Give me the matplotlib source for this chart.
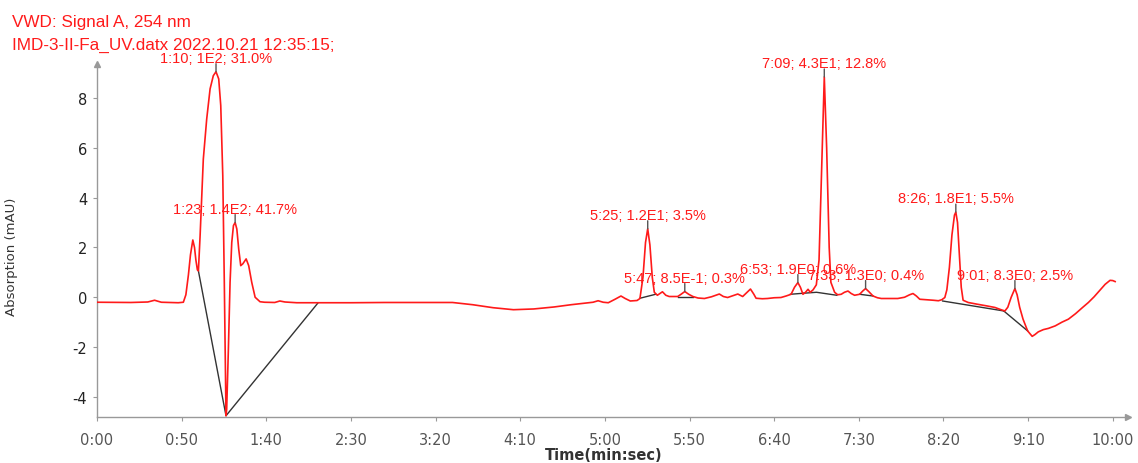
import matplotlib
matplotlib.use('Agg')
import matplotlib.pyplot as plt

plt.rcParams['axes.unicode_minus'] = False

# chromatogram trace, time in seconds, absorption in mAU
time_s = [0, 20, 30, 34, 38, 48, 51, 52.5, 54, 55.2, 56.6, 57.6, 58.4, 59.3,
          59.9, 60.9, 62.8, 64.8, 66.8, 68.7, 70.3, 71.9, 73.1, 74.3, 75.2,
          76.2, 76.6, 77.6, 78.6, 79.6, 80.6, 81.6, 82.6, 83.7, 84.9, 86.1,
          88.1, 89.6, 91.4, 93.4, 96.3, 99, 105, 108, 111, 118, 131,
          150, 170, 190, 210, 222, 234, 246, 258, 270, 280, 288, 293, 296,
          299, 302, 306, 309.5, 312, 315, 319, 320.7,
          322.5, 324, 325.3, 326.6, 328, 329.2, 331, 334, 336, 338, 343,
          345, 347.2, 349.5, 352, 355, 358.8, 363, 367.6, 370, 372.5, 375,
          378.5, 381.4, 384, 386, 388, 389.3, 393, 396, 400, 404, 407, 410,
          412, 414, 415.5, 417, 418.5, 420, 421.3, 423, 424.9, 426.5, 428,
          429.6, 431, 432.5, 433.5, 435.7, 437.5, 439.6, 441.5, 443.6,
          445.5, 447.5, 450.5, 452.3, 454, 456, 458.4, 461, 463.3, 468,
          473, 477, 480, 482, 484, 486, 490, 494, 497, 499, 500.8, 502,
          503.5, 505, 506.5, 507.3, 508.3, 509.3, 510.5, 511.6, 514.6, 520,
          525, 530.4, 534, 536.3, 538, 540, 542.2, 543.5, 545, 547, 549.7,
          552.4, 554, 556, 559, 562, 566, 570, 573.8, 578, 582, 585.6, 589,
          592, 595.5, 598.4, 600, 601.4]
signal = [-0.2, -0.21, -0.19, -0.12, -0.2, -0.22, -0.2, 0.1, 0.9, 1.7, 2.3,
          2.0, 1.5, 1.1,
          1.06, 2.47, 5.55, 7.16, 8.37, 8.9, 9.06, 8.77, 7.7, 4.88, 0.6,
          -4.76, -4.5, -2.1, 0.6, 2.2, 2.88, 3.0, 2.74, 1.94, 1.27, 1.34,
          1.54, 1.27, 0.6, 0.0, -0.18, -0.2, -0.21, -0.15, -0.19, -0.22,
          -0.22,
          -0.22, -0.21, -0.21, -0.21, -0.3, -0.42, -0.5, -0.47, -0.39, -0.3,
          -0.24, -0.2, -0.14, -0.2, -0.22, -0.08, 0.05, -0.05, -0.15, -0.13,
          -0.05,
          0.8, 2.2, 2.75, 2.1, 0.8, 0.2, 0.08, 0.22, 0.08, 0.03, 0.03,
          0.12, 0.23, 0.12, 0.03, -0.03, -0.05, 0.02, 0.13, 0.03, -0.01, 0.05,
          0.13, 0.03, 0.2, 0.33, 0.12, -0.04, -0.06, -0.05, -0.02, -0.01,
          0.05, 0.12,
          0.4, 0.59, 0.4, 0.12, 0.2, 0.32, 0.2, 0.3, 0.5, 1.5, 5.0,
          8.85, 6.0, 2.0, 0.6, 0.2, 0.1, 0.12, 0.2, 0.25,
          0.15, 0.08, 0.12, 0.25, 0.35, 0.22, 0.05, -0.02, -0.05, -0.05,
          -0.05, 0.0, 0.1, 0.15, 0.05, -0.08, -0.1, -0.12, -0.14, -0.1,
          -0.01, 0.3,
          1.2, 2.5, 3.3, 3.42, 3.0, 1.8, 0.4, -0.12, -0.21, -0.28,
          -0.34, -0.41, -0.5, -0.55, -0.4, 0.0, 0.35, 0.1, -0.4, -0.88,
          -1.35, -1.57, -1.5, -1.39, -1.3, -1.25, -1.15, -1.0, -0.88, -0.66,
          -0.42, -0.21, 0.02,
          0.25, 0.52, 0.68, 0.67, 0.63]

# integration baselines (each a list of time / value pairs)
baseline_t = [[59.9, 76.2, 130.5], [320.7, 330], [343, 352],
              [409.6, 417], [417, 425, 437], [450.5, 458.4],
              [499.5, 535.6], [535.6, 549.7]]
baseline_v = [[1.06, -4.76, -0.23], [-0.04, 0.12], [0.03, 0.03],
              [0.12, 0.16], [0.16, 0.2, 0.08], [0.12, 0.05],
              [-0.15, -0.55], [-0.55, -1.35]]

# peak annotations
peak_t = [70.3, 81.6, 325.3, 347.2, 414.0, 429.6, 454.0, 507.3, 542.2]
peak_v = [9.06, 3.0, 2.75, 0.23, 0.59, 8.85, 0.35, 3.42, 0.35]
peak_labels = ['1:10; 1E2; 31.0%', '1:23; 1.4E2; 41.7%', '5:25; 1.2E1; 3.5%',
               '5:47; 8.5E-1; 0.3%', '6:53; 1.9E0; 0.6%', '7:09; 4.3E1; 12.8%',
               '7:33; 1.3E0; 0.4%', '8:26; 1.8E1; 5.5%', '9:01; 8.3E0; 2.5%']

x_ticks = [0, 50, 100, 150, 200, 250, 300, 350, 400, 450, 500, 550, 600]
x_ticklabels = ['0:00', '0:50', '1:40', '2:30', '3:20', '4:10', '5:00',
                '5:50', '6:40', '7:30', '8:20', '9:10', '10:00']
y_ticks = [-4, -2, 0, 2, 4, 6, 8]

fig = plt.figure(figsize=(11.38, 4.64), dpi=100)
ax = fig.add_axes([97 / 1138, 46 / 464, 1031 / 1138, 353 / 464])

ax.plot(time_s, signal, color='#ff1a1a', lw=1.2, zorder=3)
for bt, bv in zip(baseline_t, baseline_v):
    ax.plot(bt, bv, color='#333333', lw=1, zorder=2)

for t, v, lab in zip(peak_t, peak_v, peak_labels):
    ax.annotate('', xy=(t, v), xytext=(0, 8), textcoords='offset pixels',
                arrowprops=dict(arrowstyle='-', color='#555555', lw=1,
                                shrinkA=0, shrinkB=0))
    ax.annotate(lab, xy=(t, v), xytext=(0, 10), textcoords='offset pixels',
                ha='center', va='baseline', color='#ff1a1a', fontsize=10.5,
                family='Liberation Sans', zorder=4)

ax.set_xlim(0, 609)
ax.set_ylim(-4.81, 9.37)
ax.set_xticks(x_ticks)
ax.set_xticklabels(x_ticklabels)
ax.set_yticks(y_ticks)

for side in ['top', 'right']:
    ax.spines[side].set_visible(False)
for side in ['left', 'bottom']:
    ax.spines[side].set_color('#999999')
    ax.spines[side].set_linewidth(1)
ax.tick_params(axis='x', direction='out', length=3, color='#999999',
               labelcolor='#555555', labelsize=10.5, pad=8)
ax.tick_params(axis='y', direction='out', length=3, color='#999999',
               labelcolor='#222222', labelsize=10.5, pad=4)
# axis arrows
ax.plot(1, 0, '>', color='#999999', ms=5, transform=ax.transAxes,
        clip_on=False)
ax.plot(0, 1, '^', color='#999999', ms=5, transform=ax.transAxes,
        clip_on=False)

ax.set_ylabel('Absorption (mAU)', fontsize=9.5, color='#333333')
ax.yaxis.set_label_coords(-0.0766, 0.456)
fig.text(604 / 1138, 1 - 456 / 464, 'Time(min:sec)', ha='center', va='center',
         fontsize=10.5, fontweight='bold', color='#333333')

fig.text(12 / 1138, 1 - 27.5 / 464, 'VWD: Signal A, 254 nm', ha='left',
         va='baseline', fontsize=12.3, color='#ff1a1a',
         family='Liberation Sans')
fig.text(12 / 1138, 1 - 49.5 / 464, 'IMD-3-II-Fa_UV.datx 2022.10.21 12:35:15;',
         ha='left', va='baseline', fontsize=12.3, color='#ff1a1a',
         family='Liberation Sans')

fig.savefig('out.png', dpi=100)
